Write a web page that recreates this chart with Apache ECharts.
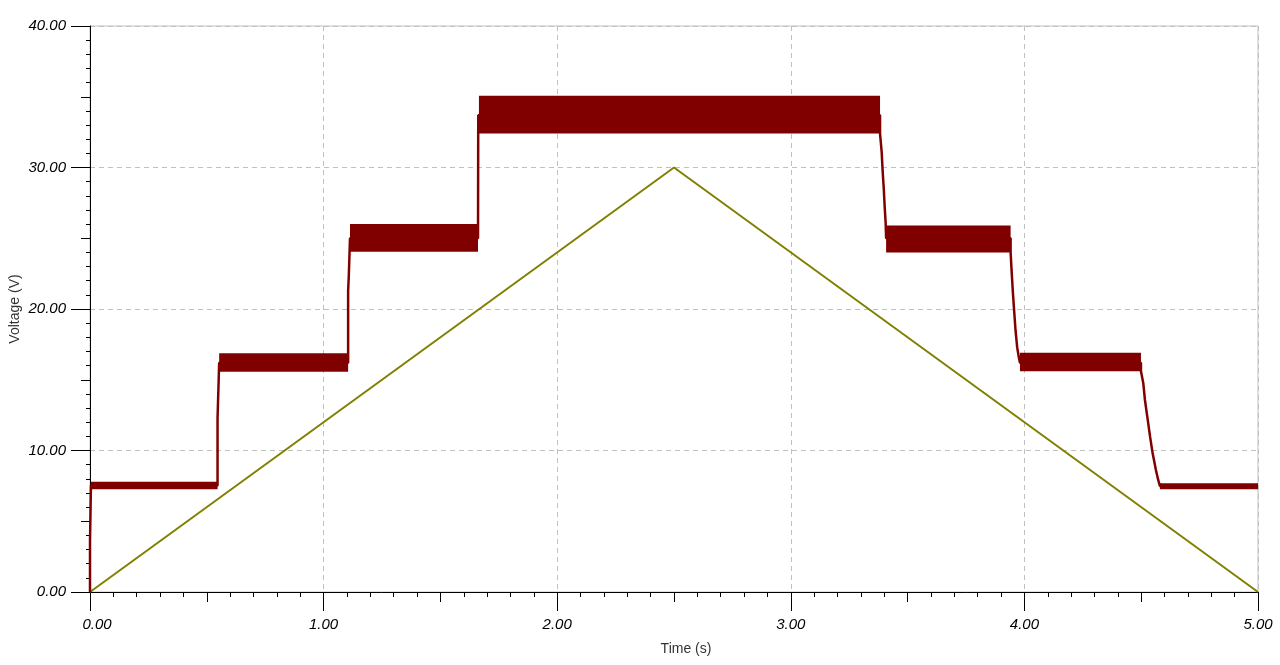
<!DOCTYPE html>
<html>
<head>
<meta charset="utf-8">
<script src="https://cdn.jsdelivr.net/npm/echarts@6/dist/echarts.min.js"></script>
<style>html,body{margin:0;padding:0;background:#fff}#c{width:1280px;height:665px}</style>
</head>
<body>
<div id="c"></div>
<script>
// Ramp (olive) signal: time, voltage
const rampTimes = [0, 2.5, 5];
const rampVolts = [0, 30, 0];

// Output (dark red) trace: transitions and plateau path [time, voltage]
const outTrace = [
  [0,0],[0,3.55],[0.004,3.55],[0.004,7.53],
  [0.546,7.53],[0.546,12.3],[0.553,12.3],[0.553,16.2],
  [1.105,16.2],[1.105,21.3],[1.108,22.4],[1.113,25.0],
  [1.661,25.0],[1.662,33.7],
  [3.382,33.7],[3.382,32.4],[3.389,31.1],[3.393,29.8],[3.398,28.5],[3.402,27.2],[3.406,26.1],[3.408,25.0],
  [3.941,25.0],[3.941,24.0],[3.945,22.76],[3.951,21.1],[3.956,19.9],[3.962,18.5],[3.969,17.3],[3.976,16.6],[3.981,16.2],
  [4.499,16.2],[4.499,15.6],[4.509,14.75],[4.516,13.57],[4.526,12.39],[4.538,10.98],[4.549,9.8],[4.563,8.62],[4.573,7.9],[4.58,7.5],
  [5.0,7.5]
];

// Ripple bands of the output: start time, end time, low V, high V
const bandStart = [0.004, 0.553, 1.113, 1.665, 3.408, 3.981, 4.58];
const bandEnd   = [0.546, 1.105, 1.661, 3.382, 3.941, 4.499, 5.0];
const bandLow   = [7.26, 15.57, 24.05, 32.4, 24.0, 15.6, 7.26];
const bandHigh  = [7.8, 16.87, 26.0, 35.07, 25.9, 16.9, 7.68];

const xTicks = [0, 1, 2, 3, 4, 5];
const yTicks = [0, 10, 20, 30, 40];

const bands = bandStart.map((s, i) => [s, bandEnd[i], bandLow[i], bandHigh[i]]);
const ramp = rampTimes.map((t, i) => [t, rampVolts[i]]);

const chart = echarts.init(document.getElementById('c'), null, {renderer: 'canvas'});
const labelFont = {fontFamily: 'Liberation Sans, Arial, sans-serif', fontSize: 15, fontStyle: 'italic', color: '#000'};
chart.setOption({
  animation: false,
  backgroundColor: '#fff',
  grid: {left: 90, right: 22, top: 26, bottom: 73, containLabel: false, outerBoundsMode: 'none',
    show: true, borderColor: '#c0c0c0', borderWidth: 1, backgroundColor: 'transparent'},
  xAxis: [{
    type: 'value', min: xTicks[0], max: xTicks[xTicks.length - 1], interval: 1, position: 'bottom',
    name: 'Time (s)', nameLocation: 'middle', nameGap: 50, nameMoveOverlap: false,
    nameTextStyle: {fontFamily: 'Liberation Sans, Arial, sans-serif', fontSize: 14, color: '#333', padding: [0, 0, 0, 24]},
    axisLine: {show: true, onZero: false, lineStyle: {color: '#000', width: 1}},
    axisTick: {show: true, length: 19, lineStyle: {color: '#000'}},
    minorTick: {show: true, splitNumber: 10, length: 5, lineStyle: {color: '#000'}},
    axisLabel: Object.assign({margin: 25, formatter: v => v === 0 ? '{a|0.00}' : v.toFixed(2),
      rich: {a: Object.assign({padding: [0, 0, 0, 14]}, labelFont)}}, labelFont),
    splitLine: {show: true, lineStyle: {color: '#c0c0c0', type: [5, 4]}}
  }, {
    type: 'value', min: 0, max: 5, interval: 0.5, position: 'bottom',
    axisLine: {show: false}, axisLabel: {show: false}, splitLine: {show: false},
    axisTick: {show: true, length: 10, lineStyle: {color: '#000'}}
  }],
  yAxis: [{
    type: 'value', min: yTicks[0], max: yTicks[yTicks.length - 1], interval: 10, position: 'left',
    name: 'Voltage (V)', nameLocation: 'middle', nameGap: 68, nameMoveOverlap: false,
    nameTextStyle: {fontFamily: 'Liberation Sans, Arial, sans-serif', fontSize: 14, color: '#333'},
    axisLine: {show: true, onZero: false, lineStyle: {color: '#000', width: 1}},
    axisTick: {show: true, length: 19, lineStyle: {color: '#000'}},
    minorTick: {show: true, splitNumber: 10, length: 4, lineStyle: {color: '#000'}},
    axisLabel: Object.assign({margin: 24, formatter: v => v.toFixed(2)}, labelFont),
    splitLine: {show: true, lineStyle: {color: '#c0c0c0', type: [5, 4]}}
  }, {
    type: 'value', min: 0, max: 40, interval: 5, position: 'left',
    axisLine: {show: false}, axisLabel: {show: false}, splitLine: {show: false},
    axisTick: {show: true, length: 9, lineStyle: {color: '#000'}}
  }],
  series: [{
    type: 'line', data: ramp, showSymbol: false, symbol: 'none',
    lineStyle: {color: '#808000', width: 2}, z: 3
  }, {
    type: 'line', data: outTrace, showSymbol: false, symbol: 'none',
    lineStyle: {color: '#800000', width: 2.5}, z: 4
  }, {
    type: 'custom', data: bands, z: 4,
    encode: {x: [0, 1], y: [2, 3]},
    renderItem: function (params, api) {
      const p0 = api.coord([api.value(0), api.value(3)]);
      const p1 = api.coord([api.value(1), api.value(2)]);
      return {type: 'rect', shape: {x: p0[0], y: p0[1], width: p1[0] - p0[0], height: p1[1] - p0[1]},
        style: {fill: '#800000'}};
    }
  }]
});
</script>
</body>
</html>
